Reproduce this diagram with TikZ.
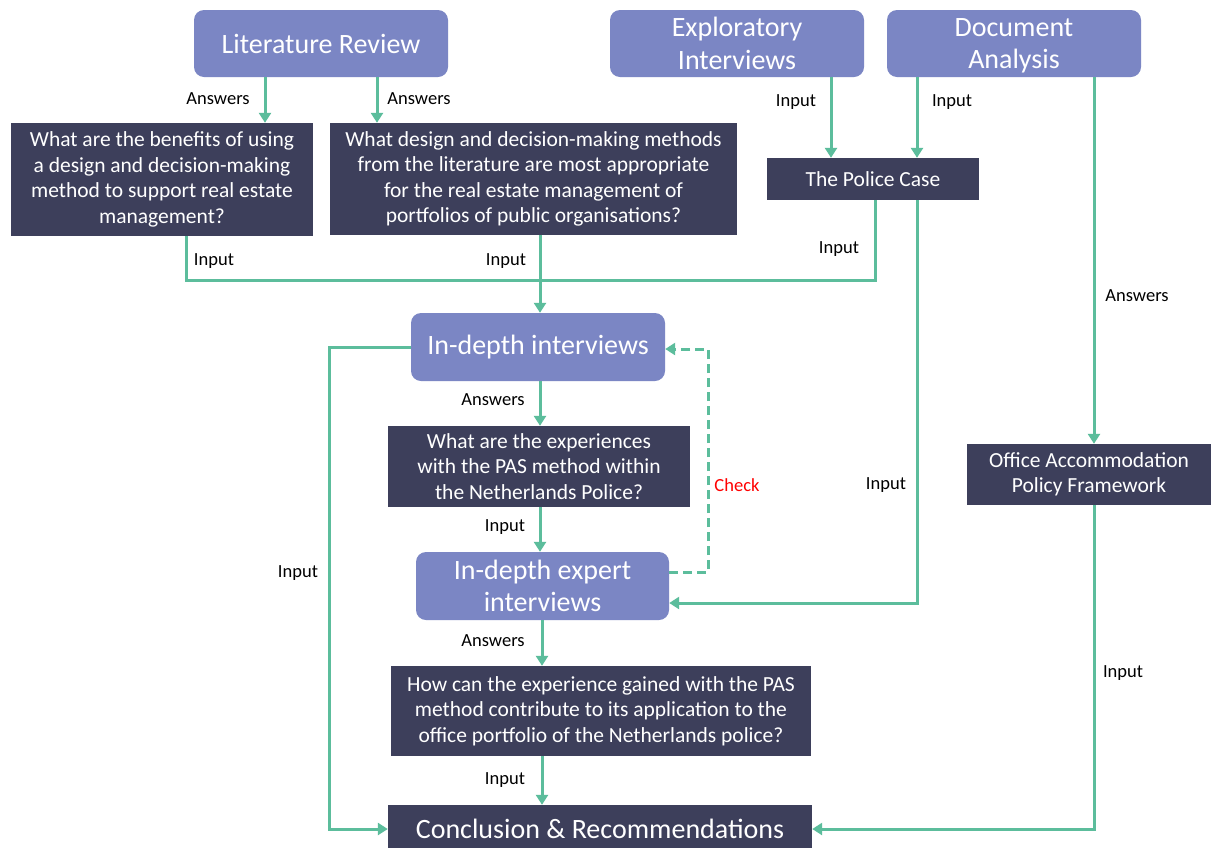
\documentclass[tikz,border=0pt]{standalone}
\usepackage{fontspec}
\setmainfont{Carlito}
\setsansfont{Carlito}
\usetikzlibrary{positioning,arrows.meta,calc}
\definecolor{methodLilac} {HTML}{7B86C4}
\definecolor{questionNavy}{HTML}{3D3F5B}
\definecolor{flowGreen}   {HTML}{5CBD9C}

\begin{document}
\begin{tikzpicture}[x=1pt, y=-1pt,
  font=\sffamily,
  method/.style ={fill=methodLilac, text=white, rounded corners=10pt,
                  align=center, inner sep=0pt,
                  font=\sffamily\fontsize{28}{32.5}\selectfont},
  rq/.style     ={fill=questionNavy, text=white, align=center, inner sep=0pt,
                  font=\sffamily\fontsize{21.5}{25.5}\selectfont},
  ar/.style     ={draw=flowGreen, line width=3pt,
                  -{Triangle[length=10pt, width=12pt]}},
  ln/.style     ={draw=flowGreen, line width=3pt},
  chk/.style    ={ar, dashed, dash pattern=on 9pt off 5pt},
  lbl/.style    ={font=\sffamily\fontsize{18.5}{20}\selectfont, inner sep=0pt},
]
\useasboundingbox[fill=white] (0,0) rectangle (1211,847);

% methods
\node[method, minimum width=254pt, minimum height=67pt] (lit)  at (321,43.5) {Literature Review};
\node[method, minimum width=254pt, minimum height=67pt] (expl) at (737,43.5) {Exploratory\\Interviews};
\node[method, minimum width=254pt, minimum height=67pt] (doc)  at (1014,43.5) {Document\\\smash{Analysis}};
\node[method, minimum width=254pt, minimum height=68pt] (indepth) at (538,347) {In-depth interviews};
\node[method, minimum width=253pt, minimum height=68pt] (expert)  at (542.5,586) {In-depth expert\\interviews};

% research questions
\node[rq, minimum width=302pt, minimum height=113pt] (q1) at (162,179.5)
  {What are the benefits of using\\a design and decision-making\\method to support real estate\\management?};
\node[rq, minimum width=407pt, minimum height=112pt] (q2) at (533.5,179)
  {What design and decision-making methods\\from the literature are most appropriate\\for the real estate management of\\portfolios of public organisations?};
\node[rq, minimum width=212pt, minimum height=42pt] (police) at (873,179) {The Police Case};
\node[rq, minimum width=302pt, minimum height=81pt] (q3) at (539,466.5)
  {What are the experiences\\with the PAS method within\\the Netherlands Police?};
\node[rq, minimum width=244pt, minimum height=61pt] (oapf) at (1089,474.5)
  {Office Accommodation\\Policy Framework};
\node[rq, minimum width=420pt, minimum height=90pt] (q4) at (601,711)
  {How can the experience gained with the PAS\\method contribute to its application to the\\office portfolio of the Netherlands police?};
\node[rq, minimum width=424pt, minimum height=48pt,
      font=\sffamily\fontsize{28}{32}\selectfont] (concl) at (600,829) {Conclusion \& Recommendations};

\coordinate (join) at (540,280);

% connectors
\draw[ar] ([xshift=-56pt]lit.south) -- ([xshift=-56pt]lit.south |- q1.north);
\draw[ar] ([xshift=56pt]lit.south)  -- ([xshift=56pt]lit.south |- q2.north);
\draw[ar] ([xshift=94pt]expl.south) -- ([xshift=94pt]expl.south |- police.north);
\draw[ar] ([xshift=-97pt]doc.south) -- ([xshift=-97pt]doc.south |- police.north);
\draw[ar] ([xshift=80pt]doc.south)  -- ([xshift=80pt]doc.south |- oapf.north);

\draw[ln] ([xshift=24pt]q1.south) |- (join);
\draw[ln] ([xshift=2pt]police.south) |- (join);
\draw[ar] (q2.south -| join) -- (indepth.north -| join);

\draw[ar] (indepth.south -| join) -- (q3.north -| join);
\draw[ar] (q3.south -| join) -- (expert.north -| join);
\draw[ar] ([xshift=-59pt]q4.north |- expert.south) -- ([xshift=-59pt]q4.north);
\draw[ar] ([xshift=-59pt]q4.south) -- ([xshift=-59pt]q4.south |- concl.north);

\draw[ar] (indepth.west) -- ++(-81,0) |- (concl.west);
\draw[ar] ([xshift=44pt]police.south) |- ([yshift=-17pt]expert.east);
\draw[ar] ([xshift=5pt]oapf.south) |- (concl.east);
\draw[chk] ([yshift=14pt]expert.east) -- ++(39,0) |- ([yshift=-2pt]indepth.east);

% labels
\node[lbl] (a1) at (218,99)  {Answers};
\node[lbl] (a2) at (419,99)  {Answers};
\node[lbl] (i1) at (796,102) {Input};
\node[lbl] (i2) at (952,102) {Input};
\node[lbl] (a3) at (1137,296) {Answers};
\node[lbl] (i3) at (214,261) {Input};
\node[lbl] (i4) at (506,261) {Input};
\node[lbl] (i5) at (839,249) {Input};
\node[lbl] (a4) at (493,400) {Answers};
\node[lbl] (i6) at (505,527) {Input};
\node[lbl] (a5) at (493,641) {Answers};
\node[lbl] (i7) at (505,780) {Input};
\node[lbl] (i8) at (298,573) {Input};
\node[lbl] (i9) at (886,485) {Input};
\node[lbl] (i10) at (1123,673) {Input};
\node[lbl, text=red] (check) at (737,485) {Check};

\end{tikzpicture}
\end{document}
